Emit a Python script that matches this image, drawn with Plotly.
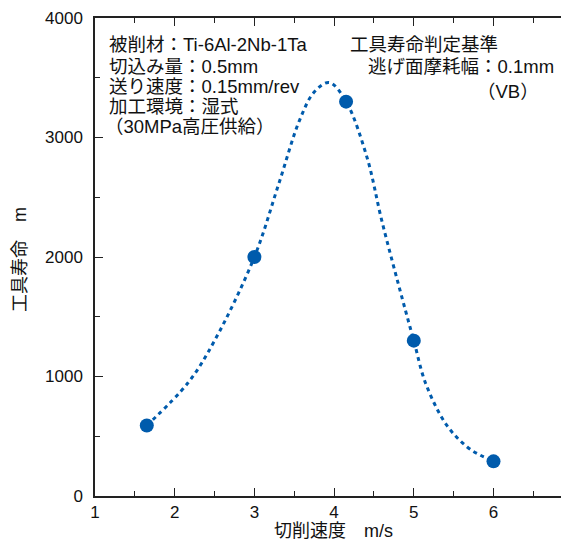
import plotly.graph_objects as go

# measured points
speed = [1.65, 3.0, 4.15, 5.0, 6.0]
life = [590, 2000, 3300, 1300, 290]

# fitted curve
curve_speed = [1.65, 2.17, 2.5, 3.0, 3.3, 3.57, 3.75, 3.94, 4.15, 4.41, 4.6, 4.86, 5.0, 5.15, 5.41, 5.67, 5.83, 6.0]
curve_life = [590, 950, 1300, 2000, 2600, 3150, 3380, 3460, 3300, 2840, 2300, 1640, 1300, 940, 595, 410, 343, 293]

x_ticks = [1, 2, 3, 4, 5, 6]
y_ticks = [0, 1000, 2000, 3000, 4000]

left_notes = ["被削材：Ti-6Al-2Nb-1Ta", "切込み量：0.5mm", "送り速度：0.15mm/rev", "加工環境：湿式", "（30MPa高圧供給）"]
right_notes = ["工具寿命判定基準", "逃げ面摩耗幅：0.1mm", "（VB）"]
x_title = "切削速度　m/s"
y_title = "工具寿命　m"

BLUE = "#005BAC"
TXT = "#111111"
FONT = "Liberation Sans, Arial, Noto Sans CJK JP, sans-serif"

OFF = 8  # page body margin
W, H = 569 - OFF, 543 - OFF
# plot area in screen pixels: left 95, right 569, top 18, bottom 496
L, T = 95 - OFF, 18 - OFF
R, B = 0, H - (496 - OFF)
PW, PH = W - L - R, H - T - B

def px(x):
    return (x - OFF - L) / PW

def py(y):
    return (H - B - (y - OFF)) / PH

fig = go.Figure()
fig.add_trace(go.Scatter(x=curve_speed, y=curve_life, mode="lines",
                         line=dict(color=BLUE, width=3, dash="4px,4px", shape="spline", smoothing=1.0),
                         hoverinfo="skip", showlegend=False))
fig.add_trace(go.Scatter(x=speed, y=life, mode="markers",
                         marker=dict(color=BLUE, size=14), showlegend=False))

annotations = []
left_pos = [(107, 45), (107, 66), (107, 86), (107, 106), (103, 126)]
for t, (x, y) in zip(left_notes, left_pos):
    annotations.append(dict(text=t, x=px(x), y=py(y), xref="paper", yref="paper",
                            xanchor="left", yanchor="middle", showarrow=False,
                            font=dict(size=18.5, color=TXT, family=FONT)))
right_pos = [(348, 45), (366, 66), (475, 91)]
for t, (x, y) in zip(right_notes, right_pos):
    annotations.append(dict(text=t, x=px(x), y=py(y), xref="paper", yref="paper",
                            xanchor="left", yanchor="middle", showarrow=False,
                            font=dict(size=18.5, color=TXT, family=FONT)))
annotations.append(dict(text=x_title, x=px(333), y=py(531), xref="paper", yref="paper",
                        xanchor="center", yanchor="middle", showarrow=False,
                        font=dict(size=18, color=TXT, family=FONT)))
annotations.append(dict(text=y_title, x=px(20), y=py(260), xref="paper", yref="paper",
                        xanchor="center", yanchor="middle", showarrow=False, textangle=-90,
                        font=dict(size=18, color=TXT, family=FONT)))

axis_common = dict(showline=True, linecolor="#222", linewidth=1.5, mirror="ticks",
                   ticks="inside", ticklen=8, tickwidth=1.3, tickcolor="#222",
                   showgrid=False, zeroline=False, automargin=False,
                   tickfont=dict(size=17, color=TXT, family=FONT))

fig.update_layout(
    width=W, height=H,
    margin=dict(l=L, r=R, t=T, b=B, autoexpand=False),
    paper_bgcolor="white", plot_bgcolor="white",
    annotations=annotations,
    xaxis=dict(range=[1, 1 + PW / 79.7], tickvals=x_ticks,
               minor=dict(ticks="inside", ticklen=5, dtick=0.5, tick0=1, tickcolor="#222", tickwidth=1.3),
               **axis_common),
    yaxis=dict(range=[0, 4000], tickvals=y_ticks, ticklabelstandoff=7,
               minor=dict(ticks="inside", ticklen=5, dtick=500, tickcolor="#222", tickwidth=1.3),
               **axis_common),
)

fig.write_html("out.html")
